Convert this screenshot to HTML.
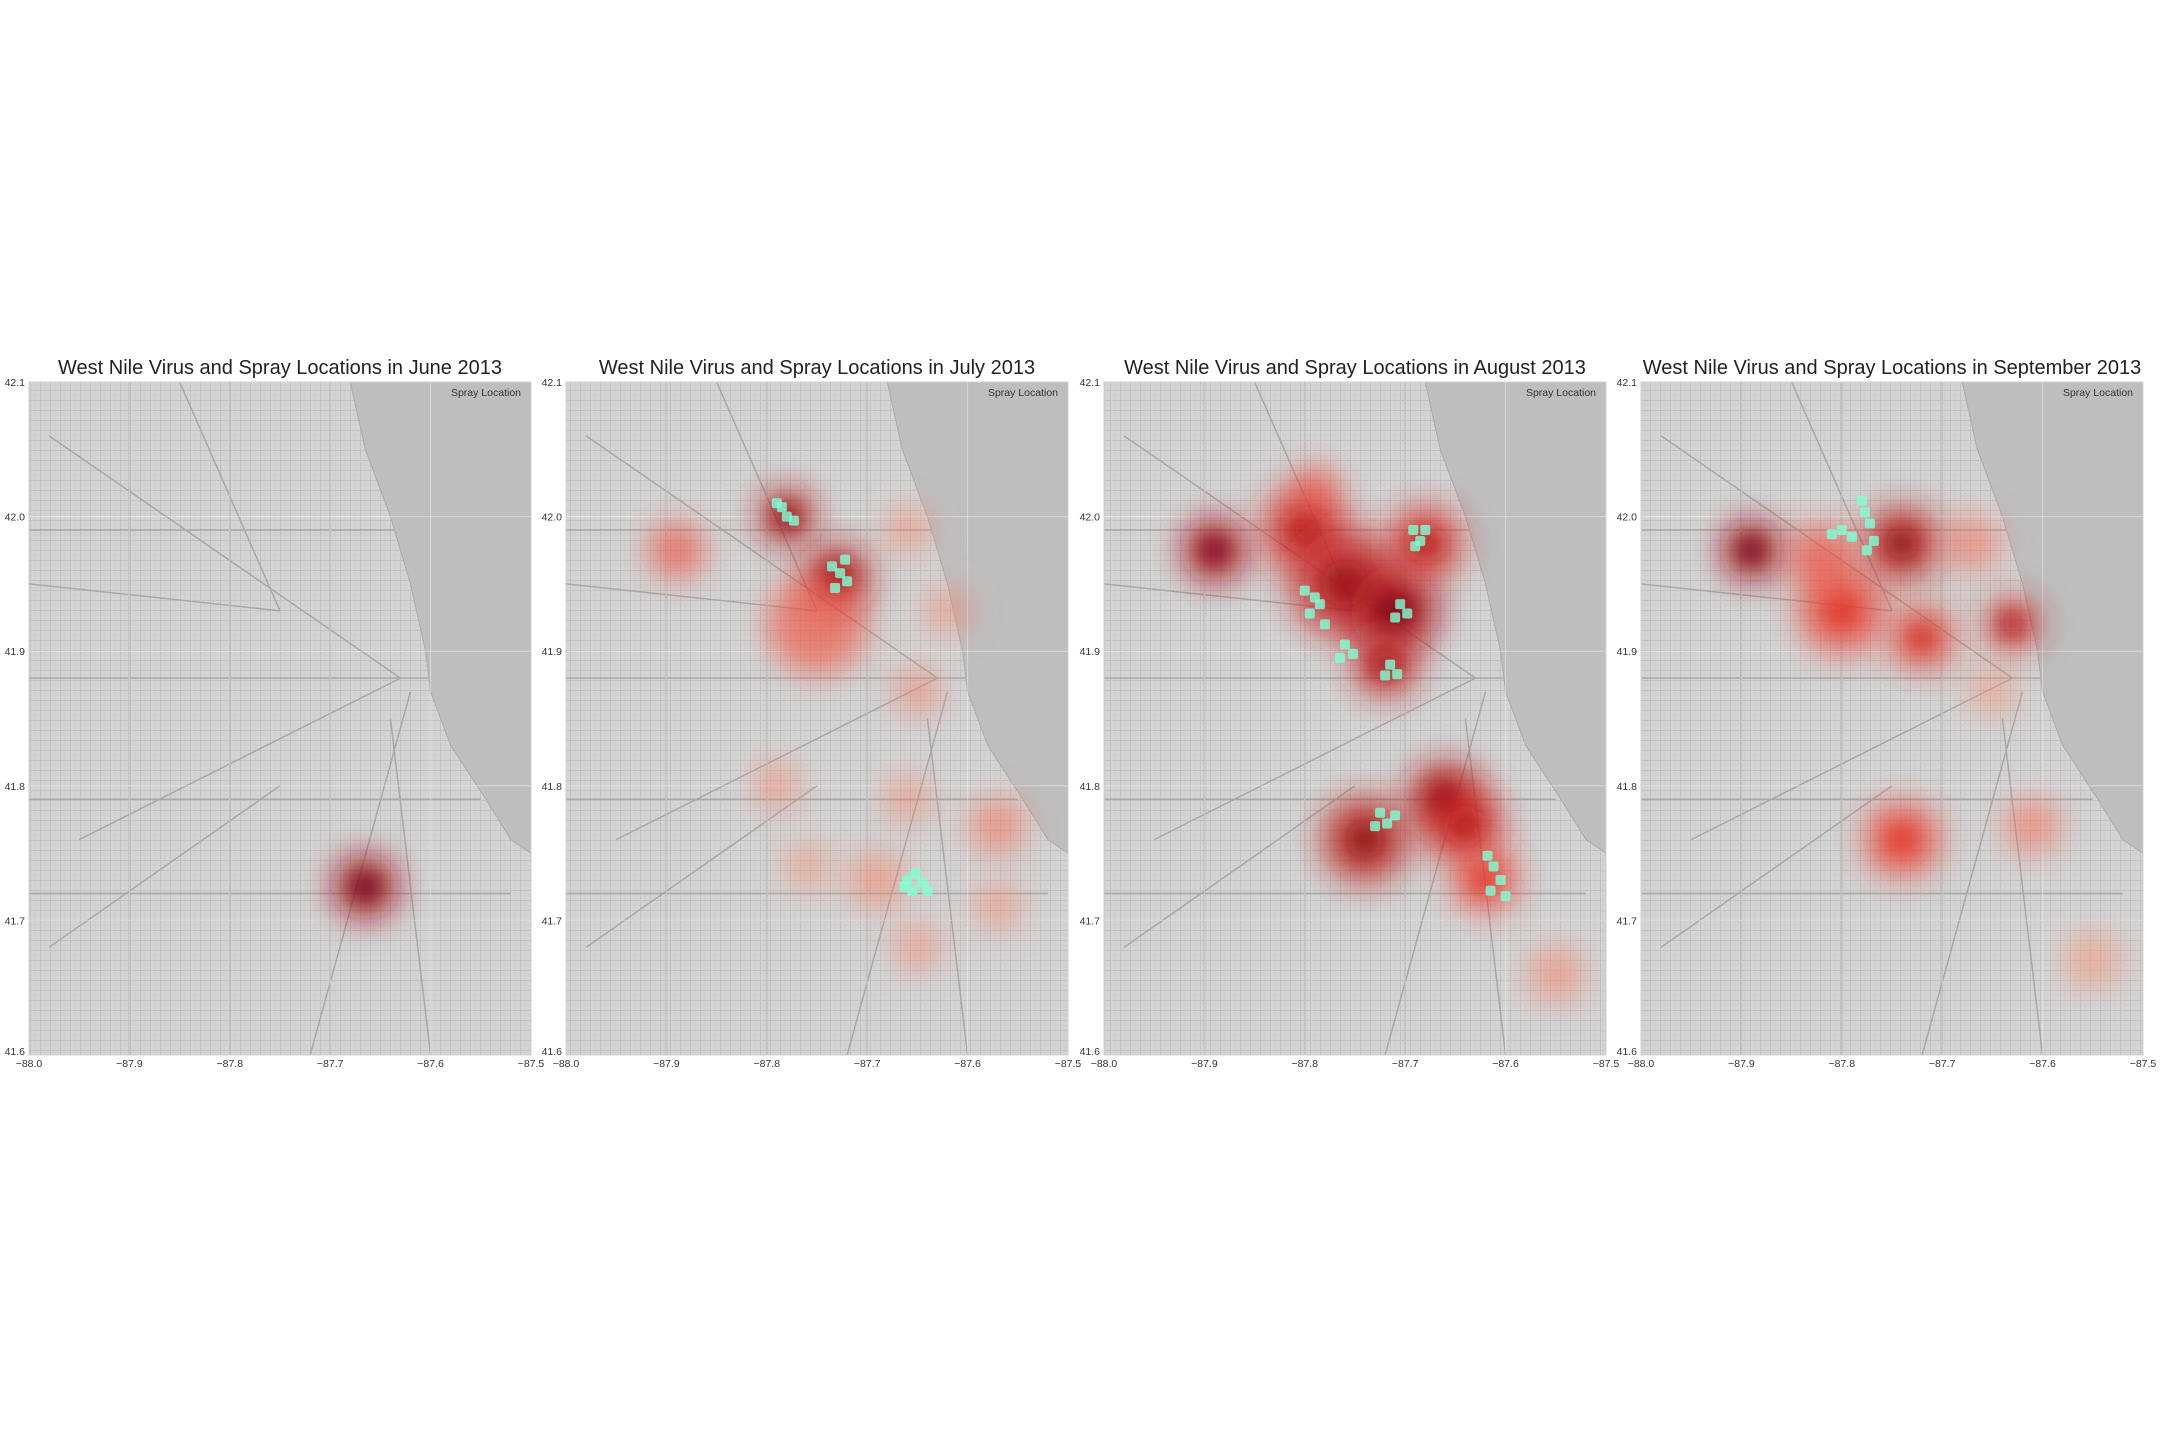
<!DOCTYPE html>
<html><head><meta charset="utf-8">
<style>
html,body{margin:0;padding:0;background:#fff;}
svg{display:block;font-family:"Liberation Sans",sans-serif;}
</style></head>
<body>
<svg id="fig" width="2160" height="1440" viewBox="0 0 2160 1440" xmlns="http://www.w3.org/2000/svg">
<defs>
<pattern id="streets" width="10" height="10" patternUnits="userSpaceOnUse">
<rect width="10" height="10" fill="#d4d4d4"/>
<path d="M0 0.5H10M0.5 0V10" stroke="#c2c2c2" stroke-width="1"/>
<path d="M5 0V10M0 5H10" stroke="#cbcbcb" stroke-width="0.6"/>
</pattern>
<filter id="blurS" x="-100%" y="-100%" width="300%" height="300%"><feGaussianBlur stdDeviation="16"/></filter>
<filter id="blurM" x="-100%" y="-100%" width="300%" height="300%"><feGaussianBlur stdDeviation="10"/></filter>
</defs>
</svg>
<script>
const months = ["June","July","August","September"];
const xTicks = [-88.0,-87.9,-87.8,-87.7,-87.6,-87.5];
const xTickLabels = ["\u221288.0","\u221287.9","\u221287.8","\u221287.7","\u221287.6","\u221287.5"];
const yTicks = [41.6,41.7,41.8,41.9,42.0,42.1];
const yTickLabels = ["41.6","41.7","41.8","41.9","42.0","42.1"];
// hotspots: [lon, lat, intensity(0-1), radius(deg)]
const virusJune = [[-87.665,41.725,1.0,0.03]];
const virusJuly = [[-87.89,41.975,0.5,0.025],[-87.78,42.0,0.9,0.026],[-87.73,41.955,0.9,0.03],[-87.75,41.92,0.45,0.045],
 [-87.65,41.87,0.25,0.02],[-87.66,41.99,0.2,0.02],[-87.62,41.93,0.2,0.02],[-87.57,41.77,0.3,0.025],[-87.79,41.8,0.2,0.02],
 [-87.66,41.79,0.2,0.02],[-87.69,41.73,0.2,0.025],[-87.57,41.71,0.2,0.02],[-87.65,41.68,0.2,0.02],[-87.76,41.74,0.15,0.02]];
const virusAugust = [[-87.89,41.975,0.95,0.03],[-87.8,41.99,0.7,0.04],[-87.76,41.95,0.8,0.05],[-87.71,41.93,0.95,0.04],
 [-87.68,41.98,0.7,0.035],[-87.72,41.89,0.8,0.03],[-87.74,41.76,0.85,0.04],[-87.66,41.79,0.9,0.035],[-87.64,41.77,0.7,0.035],
 [-87.62,41.73,0.55,0.03],[-87.55,41.66,0.2,0.025],[-87.79,42.02,0.5,0.02]];
const virusSeptember = [[-87.89,41.975,1.0,0.028],[-87.74,41.98,0.85,0.035],[-87.8,41.93,0.55,0.04],[-87.72,41.91,0.6,0.03],
 [-87.63,41.92,0.75,0.025],[-87.74,41.76,0.55,0.035],[-87.67,41.98,0.3,0.025],[-87.61,41.77,0.3,0.025],[-87.82,41.97,0.5,0.03],
 [-87.65,41.87,0.15,0.02],[-87.55,41.67,0.12,0.025]];
// spray points [lon, lat]
const sprayJune = [];
const sprayJuly = [[-87.785,42.007],[-87.78,42.0],[-87.773,41.997],[-87.79,42.01],[-87.735,41.963],[-87.727,41.958],[-87.72,41.952],[-87.732,41.947],[-87.722,41.968],
 [-87.66,41.73],[-87.652,41.735],[-87.645,41.728],[-87.655,41.722],[-87.64,41.722],[-87.663,41.725]];
const sprayAugust = [[-87.692,41.99],[-87.685,41.982],[-87.69,41.978],[-87.68,41.99],[-87.8,41.945],[-87.79,41.94],[-87.785,41.935],[-87.795,41.928],[-87.78,41.92],
 [-87.76,41.905],[-87.752,41.898],[-87.765,41.895],[-87.705,41.935],[-87.698,41.928],[-87.71,41.925],[-87.715,41.89],[-87.708,41.883],[-87.72,41.882],
 [-87.725,41.78],[-87.718,41.772],[-87.71,41.778],[-87.73,41.77],[-87.612,41.74],[-87.605,41.73],[-87.615,41.722],[-87.6,41.718],[-87.618,41.748]];
const spraySeptember = [[-87.8,41.99],[-87.79,41.985],[-87.81,41.987],[-87.777,42.003],[-87.78,42.012],[-87.772,41.995],[-87.768,41.982],[-87.775,41.975]];
const virusData = [virusJune,virusJuly,virusAugust,virusSeptember];
const sprayData = [sprayJune,sprayJuly,sprayAugust,spraySeptember];

const NS="http://www.w3.org/2000/svg";
const svg=document.getElementById('fig');
const defs=svg.querySelector('defs');
const PL=[29,566,1104,1641], PW=502, PT=382, PH=673;
function mk(t,a,p){const e=document.createElementNS(NS,t);for(const k in a)e.setAttribute(k,a[k]);(p||svg).appendChild(e);return e;}
function reds(v){const s=[[254,224,210],[252,146,114],[239,59,44],[165,15,21],[103,0,13]];const t=Math.max(0,Math.min(1,v))*(s.length-1);const i=Math.min(s.length-2,Math.floor(t)),f=t-i;return 'rgb('+s[i].map((c,j)=>Math.round(c+(s[i+1][j]-c)*f)).join(',')+')';}
const shore=[[-87.68,42.1],[-87.665,42.05],[-87.64,42.0],[-87.62,41.95],[-87.605,41.9],[-87.6,41.87],[-87.58,41.83],[-87.545,41.79],[-87.52,41.76],[-87.5,41.75]];
const roads=[[[-88,41.99],[-87.5,41.99]],[[-88,41.88],[-87.6,41.88]],[[-88,41.79],[-87.55,41.79]],[[-87.8,42.1],[-87.8,41.6]],[[-87.7,42.1],[-87.7,41.6]],
 [[-87.9,42.1],[-87.9,41.6]],[[-88,41.72],[-87.52,41.72]],[[-87.98,42.06],[-87.63,41.88]],[[-87.95,41.76],[-87.63,41.88]],[[-87.72,41.6],[-87.62,41.87]],
 [[-87.85,42.1],[-87.75,41.93]],[[-88,41.95],[-87.75,41.93]],[[-87.6,41.6],[-87.64,41.85]],[[-87.98,41.68],[-87.75,41.8]]];
months.forEach((m,pi)=>{
  const L=PL[pi];
  const xs=lon=>L+(lon+88)/0.5*PW, ys=lat=>PT+(42.1-lat)/0.5*PH;
  const cp=mk('clipPath',{id:'clip'+pi},defs); mk('rect',{x:L,y:PT,width:PW,height:PH},cp);
  const g=mk('g',{'clip-path':'url(#clip'+pi+')'});
  
  
  mk('rect',{x:L,y:PT,width:PW,height:PH,fill:'url(#streets)'},g);
  roads.forEach(r=>mk('line',{x1:xs(r[0][0]),y1:ys(r[0][1]),x2:xs(r[1][0]),y2:ys(r[1][1]),stroke:'#a8a8a8','stroke-width':1.5},g));
  let d='M'+xs(shore[0][0])+' '+ys(shore[0][1]);shore.forEach(p=>d+=' L'+xs(p[0])+' '+ys(p[1]));d+=' L'+xs(-87.5)+' '+ys(42.1)+'Z';
  const lake=mk('path',{d:d,fill:'#bebebe',stroke:'#aaa','stroke-width':1},g);
  
  
  xTicks.forEach(t=>mk('line',{x1:xs(t),y1:PT,x2:xs(t),y2:PT+PH,stroke:'#fff','stroke-opacity':0.4,'stroke-width':1},g));
  yTicks.forEach(t=>mk('line',{x1:L,y1:ys(t),x2:L+PW,y2:ys(t),stroke:'#fff','stroke-opacity':0.4,'stroke-width':1},g));
  const pxr=PW/0.5;
  virusData[pi].forEach(h=>{
    const r=h[3]*pxr;
    const c1=mk('circle',{cx:xs(h[0]),cy:ys(h[1]),r:r*1.1,fill:reds(h[2]*0.55+0.2),'fill-opacity':0.5+0.3*h[2],filter:'url(#blurS)'},g);
    
    
    if(h[2]>0.5){mk('circle',{cx:xs(h[0]),cy:ys(h[1]),r:r*0.45,fill:reds(h[2]),'fill-opacity':0.8,filter:'url(#blurM)'},g);}
  });
  sprayData[pi].forEach(p=>{
    const s=mk('rect',{x:xs(p[0])-5,y:ys(p[1])-5,width:10,height:10,rx:2,fill:'#7fffd4','fill-opacity':0.8},g);
    
    
  });
  mk('rect',{x:L,y:PT,width:PW,height:PH,fill:'none',stroke:'#d0d0d0','stroke-width':1});
  const ti=mk('text',{x:L+PW/2,y:374,'text-anchor':'middle','font-size':20,fill:'#222'});ti.textContent='West Nile Virus and Spray Locations in '+m+' 2013';
  
  
  const lg=mk('text',{x:L+PW-10,y:396,'text-anchor':'end','font-size':10.5,fill:'#333'});lg.textContent='Spray Location';
  
  
  xTicks.forEach((t,i)=>{const e=mk('text',{x:xs(t),y:1067,'text-anchor':'middle','font-size':10.5,fill:'#333'});e.textContent=xTickLabels[i];
    
    });
  yTicks.forEach((t,i)=>{const e=mk('text',{x:L-4,y:ys(t)+(i==0?0:4),'text-anchor':'end','font-size':10.5,fill:'#333'});e.textContent=yTickLabels[i];
    
    });
});
</script>
</body></html>
